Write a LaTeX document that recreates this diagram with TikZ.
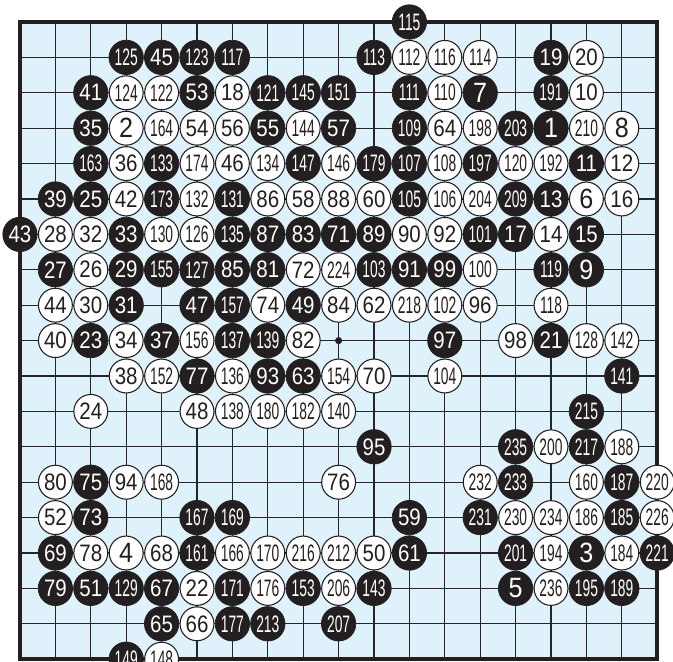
\documentclass[tikz,border=0pt]{standalone}
\usepackage{fontspec}
\setmainfont{Liberation Sans}
\usepackage{graphicx}
\usepackage{tikz}
\definecolor{boardblue}{RGB}{223,241,250}
\definecolor{stoneblack}{RGB}{35,31,32}

\newcommand{\mvnum}[1]{%
  \ifnum#1>99 \fontsize{13.4}{14}\selectfont\scalebox{0.58}[1]{#1}%
  \else\ifnum#1>9 \fontsize{13.4}{14}\selectfont\scalebox{0.86}[1]{#1}%
  \else\fontsize{15.7}{16}\selectfont\scalebox{0.9}[1]{#1}\fi\fi}

\tikzset{
  blackstone/.style={circle,fill=stoneblack,draw=stoneblack,line width=0.4pt,
    inner sep=0pt,minimum size=0.68cm,text=white},
  whitestone/.style={circle,fill=white,draw=stoneblack,line width=0.6pt,
    inner sep=0pt,minimum size=0.67cm,text=stoneblack},
}

\begin{document}
\begin{tikzpicture}[x=0.7cm,y=-0.7cm]
  \clip (-0.565,-0.621) rectangle (18.446,18.051);
  % board
  \fill[boardblue] (0,0) rectangle (18,18);
  \foreach \i in {1,...,17}{
    \draw[black!85,line width=0.6pt] (\i,0) -- (\i,18);
    \draw[black!85,line width=0.6pt] (0,\i) -- (18,\i);
  }
  \draw[stoneblack,line width=2pt] (0,0) rectangle (18,18);
  \fill[stoneblack] (9,9) circle (0.1);
  % black stones
  \foreach \c/\r/\n in {11/0/115,
    3/1/125, 4/1/45, 5/1/123, 6/1/117, 10/1/113, 15/1/19,
    2/2/41, 5/2/53, 7/2/121, 8/2/145, 9/2/151, 11/2/111, 13/2/7, 15/2/191,
    2/3/35, 7/3/55, 9/3/57, 11/3/109, 14/3/203, 15/3/1,
    2/4/163, 4/4/133, 8/4/147, 10/4/179, 11/4/107, 13/4/197, 16/4/11,
    1/5/39, 2/5/25, 4/5/173, 6/5/131, 11/5/105, 14/5/209, 15/5/13,
    0/6/43, 3/6/33, 6/6/135, 7/6/87, 8/6/83, 9/6/71, 10/6/89, 13/6/101, 14/6/17, 16/6/15,
    1/7/27, 3/7/29, 4/7/155, 5/7/127, 6/7/85, 7/7/81, 10/7/103, 11/7/91, 12/7/99, 15/7/119, 16/7/9,
    3/8/31, 5/8/47, 6/8/157, 8/8/49,
    2/9/23, 4/9/37, 6/9/137, 7/9/139, 12/9/97, 15/9/21,
    5/10/77, 7/10/93, 8/10/63, 17/10/141,
    16/11/215,
    10/12/95, 14/12/235, 16/12/217,
    2/13/75, 14/13/233, 17/13/187,
    2/14/73, 5/14/167, 6/14/169, 11/14/59, 13/14/231, 17/14/185,
    1/15/69, 5/15/161, 11/15/61, 14/15/201, 16/15/3, 18/15/221,
    1/16/79, 2/16/51, 3/16/129, 4/16/67, 6/16/171, 8/16/153, 10/16/143, 14/16/5, 16/16/195, 17/16/189,
    4/17/65, 6/17/177, 7/17/213, 9/17/207,
    3/18/149}
    \node[blackstone] (m\n) at (\c,\r) {\mvnum{\n}};
  % white stones
  \foreach \c/\r/\n in {11/1/112, 12/1/116, 13/1/114, 16/1/20,
    3/2/124, 4/2/122, 6/2/18, 12/2/110, 16/2/10,
    3/3/2, 4/3/164, 5/3/54, 6/3/56, 8/3/144, 12/3/64, 13/3/198, 16/3/210, 17/3/8,
    3/4/36, 5/4/174, 6/4/46, 7/4/134, 9/4/146, 12/4/108, 14/4/120, 15/4/192, 17/4/12,
    3/5/42, 5/5/132, 7/5/86, 8/5/58, 9/5/88, 10/5/60, 12/5/106, 13/5/204, 16/5/6, 17/5/16,
    1/6/28, 2/6/32, 4/6/130, 5/6/126, 11/6/90, 12/6/92, 15/6/14,
    2/7/26, 8/7/72, 9/7/224, 13/7/100,
    1/8/44, 2/8/30, 7/8/74, 9/8/84, 10/8/62, 11/8/218, 12/8/102, 13/8/96, 15/8/118,
    1/9/40, 3/9/34, 5/9/156, 8/9/82, 14/9/98, 16/9/128, 17/9/142,
    3/10/38, 4/10/152, 6/10/136, 9/10/154, 10/10/70, 12/10/104,
    2/11/24, 5/11/48, 6/11/138, 7/11/180, 8/11/182, 9/11/140,
    15/12/200, 17/12/188,
    1/13/80, 3/13/94, 4/13/168, 9/13/76, 13/13/232, 16/13/160, 18/13/220,
    1/14/52, 14/14/230, 15/14/234, 16/14/186, 18/14/226,
    2/15/78, 3/15/4, 4/15/68, 6/15/166, 7/15/170, 8/15/216, 9/15/212, 10/15/50, 15/15/194, 17/15/184,
    5/16/22, 7/16/176, 9/16/206, 15/16/236,
    5/17/66,
    4/18/148}
    \node[whitestone] (m\n) at (\c,\r) {\mvnum{\n}};
\end{tikzpicture}
\end{document}
